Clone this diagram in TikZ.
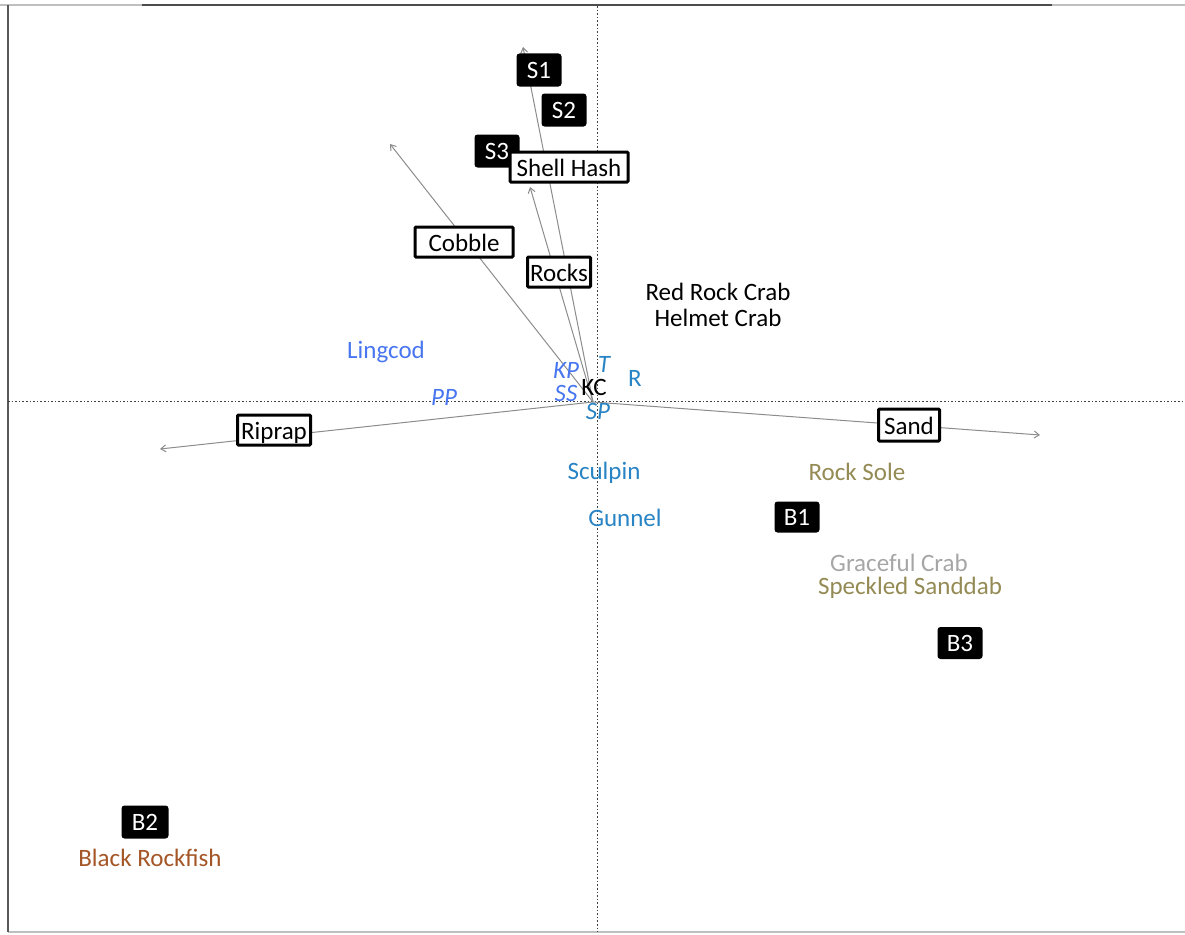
\documentclass[tikz,border=0pt]{standalone}
\usepackage{fontspec}
\setmainfont{Carlito}
\usetikzlibrary{arrows.meta}
\definecolor{spblue}{RGB}{72,118,240}
\definecolor{spteal}{RGB}{40,132,196}
\definecolor{spolive}{RGB}{148,138,84}
\definecolor{spgray}{RGB}{166,166,166}
\definecolor{spbrown}{RGB}{164,86,38}
\definecolor{vecgray}{RGB}{140,140,140}
\begin{document}
\begin{tikzpicture}[x=1pt,y=-1pt,
  every node/.style={font=\fontsize{25}{28}\selectfont, inner sep=0pt},
  sitebox/.style={fill=black, text=white, rounded corners=3pt, minimum height=33pt, minimum width=45pt},
  envbox/.style={draw=black, line width=3pt, fill=white, minimum height=30pt, rounded corners=1pt, text height=19pt, text depth=0pt},
  vec/.style={draw=vecgray, line width=1pt, -{Straight Barb[length=5pt,width=7pt]}},
  axisline/.style={draw=black!75, line width=0.9pt, dash pattern=on 1.6pt off 2pt},
  frameline/.style={line width=2pt}
]
\useasboundingbox (0,0) rectangle (1185,934);

% plot frame
\draw[frameline, black!25] (0,5) -- (1185,5);
\draw[frameline, black!25] (8,932) -- (1185,932);
\draw[frameline, black!70] (142,5) -- (1052,5);
\draw[frameline, black!65] (8,5) -- (8,932);

% ordination axes
\draw[axisline] (8,401) -- (1185,401);
\draw[axisline] (597,6) -- (597,932);

% environmental vectors
\coordinate (O) at (593,402);
\coordinate (tShell) at (523,47);
\coordinate (tRocks) at (530,187);
\coordinate (tCobble) at (390,144);
\coordinate (tRiprap) at (160,449);
\coordinate (tSand) at (1040,435);
\draw[vec] (O) -- (tShell);
\draw[vec] (O) -- (tRocks);
\draw[vec] (O) -- (tCobble);
\draw[vec] (O) -- (tRiprap);
\draw[vec] (O) -- (tSand);

% sites
\node[sitebox] (S1) at (539,70) {S1};
\node[sitebox] (S2) at (564,110) {S2};
\node[sitebox] (S3) at (497,151) {S3};
\node[sitebox, minimum height=31pt] (B1) at (797,517) {B1};
\node[sitebox, minimum width=47pt] (B2) at (145,822) {B2};
\node[sitebox, minimum height=32pt] (B3) at (960,643) {B3};

% habitat variables
\node[envbox, minimum width=118pt] (shell) at (569,167) {Shell Hash};
\node[envbox, minimum width=98pt] (cobble) at (464,242) {Cobble};
\node[envbox, minimum width=63pt] (rocks) at (559,272) {Rocks};
\node[envbox, minimum width=73pt] (riprap) at (274,430) {Riprap};
\node[envbox, minimum width=61pt, minimum height=32pt] (sand) at (909,425) {Sand};

% species
\node (rrc) at (718,292) {Red Rock Crab};
\node (hc) at (718,318) {Helmet Crab};
\node[text=spblue] (ling) at (386,352) {Lingcod};
\node[text=spblue] (pp) at (444,397) {\itshape PP};
\node[text=spblue] (kp) at (566,370) {\itshape KP};
\node[text=spblue] (ss) at (566,393) {\itshape SS};
\node (kc) at (594,387) {KC};
\node[text=spteal] (t) at (604,364) {\itshape T};
\node[text=spteal] (r) at (635,378) {R};
\node[text=spteal] (sp) at (598,411) {\itshape SP};
\node[text=spteal] (sculpin) at (604,473) {Sculpin};
\node[text=spteal] (gunnel) at (625,518) {Gunnel};
\node[text=spolive] (rsole) at (857,472) {Rock Sole};
\node[text=spgray] (gcrab) at (899,563) {Graceful Crab};
\node[text=spolive] (ssand) at (910,588) {Speckled Sanddab};
\node[text=spbrown] (brock) at (150,858) {Black Rockfish};
\end{tikzpicture}
\end{document}
